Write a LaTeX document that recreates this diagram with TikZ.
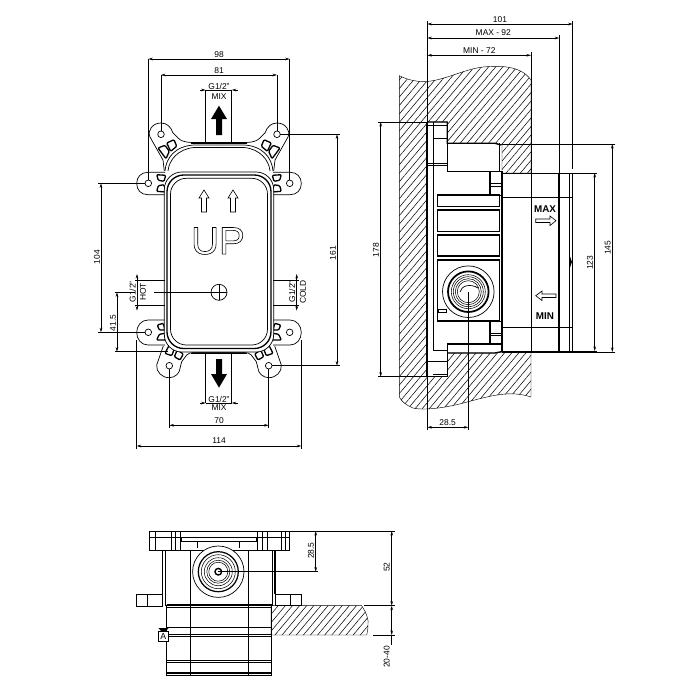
\documentclass[tikz,border=0pt]{standalone}
\usepackage{fontspec}
\setmainfont{Liberation Sans}
\usetikzlibrary{arrows.meta,patterns.meta}

\begin{document}
\begin{tikzpicture}[x=0.02cm, y=-0.02cm, >={Stealth[length=2.6pt,width=1.5pt]},
    dimline/.style={<->, line width=0.35pt},
    extline/.style={line width=0.3pt},
    holeline/.style={line width=0.3pt, shorten <=1.9pt},
    part/.style={line width=0.4pt},
    heavy/.style={line width=0.75pt},
    slot/.style={line width=0.75pt, fill=white, rounded corners=0.6pt},
    hatched/.style={line width=0.25pt, pattern={Lines[angle=50,distance=3.1pt,line width=0.3pt]}},
    dimlabel/.style={font=\fontsize{4.8}{6}\selectfont, inner sep=0pt},
    vertlabel/.style={dimlabel, rotate=90},
    blockarrow/.style={fill=black, draw=none},
    hollowarrow/.style={line width=0.35pt, fill=white}]
  \useasboundingbox (0,0) rectangle (700,700);

  % front view, both halves
  \foreach \s in {1,-1} {
    \begin{scope}[shift={(219,0)}, xscale=\s]
      % top lug
      \draw[part, fill=white] (54.7,171) -- (56,160) -- (69,137)
        .. controls (72,130) and (66,123) .. (58,123)
        .. controls (52,123) and (48,127) .. (46,133) -- (39,139.7)
        .. controls (36,141.5) and (32,142.5) .. (26,142.5) -- (0,142.5);
      \draw[part] (54,171) .. controls (53,158) and (44,146) .. (25,145) -- (0,145);
      \draw[part] (51,171) .. controls (50,160) and (41,149) .. (25,147.5) -- (0,147.5);
      \draw[heavy] (28,143.4) -- (0,143.4);
      \draw[slot] (61,148) -- (54,145.3) -- (49.7,151.3) -- (53,158.7) -- cycle;
      \draw[slot] (52.3,143) -- (45,139.7) -- (42.3,146.3) -- (48.3,151.3) -- cycle;
      % side lugs
      \draw[part, fill=white] (54,172.3) -- (71,172.3)
        .. controls (78,172.3) and (82.3,177) .. (82.3,183.5)
        .. controls (82.3,190) and (78,194.7) .. (71,194.7) -- (54,194.7);
      \draw[part, fill=white] (54,320) -- (71,320)
        .. controls (78,320) and (82.3,326) .. (82.3,332.5)
        .. controls (82.3,339) and (78,345) .. (71,345) -- (54,345);
      \draw[slot] (62.3,174.7) -- (53.3,175.3) -- (55,181.3) -- (60.7,180.3) -- cycle;
      \draw[slot] (60.7,185.7) -- (55,184.7) -- (53.3,192) -- (62.3,191.3) -- cycle;
      \draw[slot] (61.7,325) -- (55.7,323.3) -- (54,330) -- (59.7,330) -- cycle;
      \draw[slot] (59.7,334.3) -- (54,333.3) -- (53.3,340) -- (62.3,340) -- cycle;
      % bottom lug
      \draw[part, fill=white] (55.7,346) -- (62.3,365)
        .. controls (63,372) and (57,377.7) .. (49.7,377.7)
        .. controls (44,377.7) and (39,373) .. (39,368.3) -- (37.3,361.7) -- (32.3,355)
        .. controls (30,353) and (28,352.5) .. (26,352.5) -- (0,352.5);
      \draw[heavy] (28,353.5) -- (0,353.5);
      \draw[slot] (49.7,345) -- (44,347.3) -- (47.3,355.7) -- (54,353.3) -- cycle;
      \draw[slot] (41.7,350) -- (35.7,354) -- (39,360) -- (44.7,356.7) -- cycle;
      % holes
      \draw[part, fill=white] (58,134.3) circle (3.3);
      \draw[part, fill=white] (70.7,183.3) circle (3.3);
      \draw[part, fill=white] (70.7,332.3) circle (3.3);
      \draw[part, fill=white] (49.7,365.7) circle (3.3);
    \end{scope}
  }
  % box outline
  \draw[part, fill=white, rounded corners=10pt] (164.3,172) rectangle (273.7,352);
  \draw[heavy, rounded corners=9.5pt] (167,175) rectangle (271,348.5);
  \draw[part, rounded corners=9pt] (170.5,178.3) rectangle (267.5,345);

  % big arrows
  \draw[blockarrow] (219,105.7) -- (227,119) -- (222,119) -- (222,135) -- (216,135) -- (216,119) -- (211,119) -- cycle;
  \draw[blockarrow] (219,387.7) -- (227,374) -- (222,374) -- (222,359) -- (216,359) -- (216,374) -- (211,374) -- cycle;
  \foreach \x in {204,233}
  \draw[hollowarrow, shift={(\x,0)}] (0,190) -- (5,198) -- (2.5,198) -- (2.5,212) -- (-2.5,212) -- (-2.5,198) -- (-5,198) -- cycle;
  \node[inner sep=0pt, font=\fontsize{22}{24}\selectfont] (uptext) at (218,241)
    {\special{pdf:code 1 Tr 0.35 w}UP\special{pdf:code 0 Tr}};

  % inlet hole
  \coordinate (inlet) at (219,292.3);
  \draw[part] (inlet) circle (8);
  \draw[part] (211,292.3) -- (227,292.3) (219,284.3) -- (219,300.3);

  % side view, wall
  \draw[hatched] (399.3,75.7) .. controls (410,81) and (420,82) .. (427,81.5)
    .. controls (445,80) and (465,69) .. (483,67) .. controls (495,66) and (520,64) .. (531,80)
    -- (531,173) -- (502,173) -- (502,145) -- (495,143.3) -- (447.3,143.3) -- (447.3,122) -- (427,122)
    -- (427,376.7) -- (447.3,376.7) -- (447.3,353) -- (495,353) -- (502,352) -- (531,352) -- (531,397)
    .. controls (510,390) and (490,396) .. (467,402) .. controls (450,407) and (425,411) .. (413,408)
    .. controls (406,405) and (402,402) .. (399.3,397) -- cycle;

  % side view, body
  \draw[heavy] (427,122) -- (447.3,122) -- (447.3,143.3) -- (495,143.3) -- (501,145);
  \draw[heavy] (447.3,143.3) -- (447.3,171.7) -- (490,171.7);
  \draw[heavy] (427,122) -- (427,376.7) -- (447.3,376.7) -- (447.3,344) -- (502,344);
  \draw[heavy] (447.3,353) -- (495,353) -- (502,351.5);
  \draw[part] (433.3,122) -- (433.3,350) -- (447.3,350);
  \draw[part] (427,125) -- (447.3,125) (433.3,138) -- (447.3,138);
  \draw[part] (427,163) -- (447.3,163) (427,165) -- (447.3,165);
  \draw[part] (427,361) -- (447.3,361) (433.3,374) -- (447.3,374);
  \draw[part] (499.3,143.3) -- (499.3,171.7);
  \draw[heavy] (490,171.7) -- (502,171.7) -- (502,351.5);
  \draw[heavy] (490,171.7) -- (490,195) (490,321.5) -- (490,344);
  \draw[part] (490,183) -- (502,183) (490,186) -- (502,186) (490,195) -- (502,195);
  \draw[part] (490,321.5) -- (502,321.5) (490,333) -- (502,333) (490,335.5) -- (502,335.5);
  \foreach \a/\b in {195/206.7,210/231.7,235/256,260/321}
  \draw[heavy] (437.7,\a) rectangle (499.3,\b);

  % side view, inlet
  \coordinate (port) at (468.3,291.7);
  \draw[part] (port) circle (25.8);
  \draw[line width=1pt] (port) circle (20.3);
  \foreach \r in {17,15,13,11}
  \draw[line width=0.3pt] (port) circle (\r);
  \draw[part] (460,292) .. controls (461,286) and (470,283) .. (478,288);
  \draw[part] (438,309) rectangle (446.5,312);

  % side view, sleeve
  \draw[part] (502,173) -- (572.3,173);
  \draw[heavy] (502,351.5) -- (572.3,351.5);
  \draw[line width=0.55pt] (531,173) -- (531,351.5);
  \foreach \x in {559,569.3}
  \draw[line width=0.7pt] (\x,173) -- (\x,351.5);
  \draw[part] (572.3,173) -- (572.3,351.5);
  \draw[part] (502,197.7) -- (572.3,197.7) (502,327.3) -- (572.3,327.3);
  \fill (569.5,255) -- (572,262) -- (569.5,269) -- cycle;
  \draw[hollowarrow] (556,220.7) -- (550,216) -- (550,219) -- (535.7,219) -- (535.7,222.5) -- (550,222.5) -- (550,225.5) -- cycle;
  \draw[hollowarrow] (535.7,295.7) -- (542,291) -- (542,294) -- (556,294) -- (556,297.5) -- (542,297.5) -- (542,300.5) -- cycle;
  \node[inner sep=0pt, font=\fontsize{5.6}{7}\selectfont\bfseries] (maxtext) at (545,209) {MAX};
  \node[inner sep=0pt, font=\fontsize{5.6}{7}\selectfont\bfseries] (mintext) at (545,316) {MIN};

  % top view
  \draw[part] (149,531) rectangle (289,550);
  \draw[part] (149,537.3) -- (289,537.3);
  \foreach \x in {155,171.7,175,180,257.3,262.3,267.3,281.7,285.7}
  \draw[part] (\x,531) -- (\x,550);
  \draw[part] (181.7,537.3) -- (181.7,541.7) -- (256.7,541.7) -- (256.7,537.3);
  \draw[part] (197,541.7) -- (197,548) (239,541.7) -- (239,548);
  \draw[part] (136.7,594) rectangle (162.7,606);
  \draw[part] (147,594) -- (147,606);
  \draw[part] (275,594) rectangle (301,605);
  \draw[part] (290,594) -- (290,605);
  \draw[part, fill=white] (165.7,550) rectangle (272.3,605);
  \draw[heavy] (162.7,550) -- (162.7,594) (275,550) -- (275,594);
  \draw[part] (162.7,550) -- (190,550) (248.3,550) -- (275,550);
  \draw[part] (166.7,605) rectangle (271.7,675.7);
  \draw[heavy] (166.7,604.5) -- (271.7,604.5);
  \draw[part] (166.7,607.7) -- (271.7,607.7) (166.7,627.7) -- (271.7,627.7);
  \draw[part] (166.7,634.3) -- (271.7,634.3) (166.7,636) -- (271.7,636);
  \draw[part] (166.7,660.7) -- (271.7,660.7) (166.7,662.7) -- (271.7,662.7);
  \draw[heavy] (166.7,673) -- (271.7,673) (166.7,675.7) -- (271.7,675.7);
  \draw[part] (190,550) -- (190,675.7) (248.3,550) -- (248.3,675.7);
  \coordinate (boss) at (218.3,571.7);
  \draw[part, fill=white] (boss) circle (25.7);
  \draw[line width=0.7pt] (boss) circle (20);
  \foreach \r in {17,14,11.5,9.5}
  \draw[line width=0.3pt] (boss) circle (\r);
  \draw[line width=0.8pt] (boss) circle (3.3);
  \draw[hatched] (271,605.7) -- (361.7,605.7) .. controls (366,612) and (369,620) .. (368,625)
    .. controls (368,630) and (367,633) .. (366.7,635) -- (271,635) -- cycle;
  \fill (158.5,628) -- (168.5,628) -- (163.5,634) -- cycle;
  \node[draw, fill=white, line width=0.3pt, minimum width=5.5pt, minimum height=5.5pt, inner sep=0pt,
    font=\fontsize{5}{6}\selectfont] (markA) at (163.3,636.5) {A};

  % dimension end points
  \foreach \n/\x/\y in {ta/161/134.3,tb/277/134.3,la/148.3/183.3,lb/289.7/183.3,ka/148.3/332.3,
    kb/289.7/332.3,ua/169.3/365.7,ub/268.7/365.7,
    a98/148.3/59,b98/289.7/59,a81/161/75,b81/277/75,
    aG/200/90,bG/237.7/90,cG/205.7/90,dG/231.7/90,eG/205.7/142,fG/231.7/142,
    aH/200/403,bH/237.7/403,cH/205.7/403,dH/231.7/403,eH/205.7/353,fH/231.7/353,
    a70/169.3/425.3,b70/268.7/425.3,a114/136.7/446,b114/301.3/446,c114/136.7/340,d114/301.3/340,
    e114/136.7/449,f114/301.3/449,g70/169.3/428,h70/268.7/428,
    a161/337/134.3,b161/337/365.7,c161/340/134.3,d161/340/365.7,
    a104/101/183.3,b104/101/332.3,c104/98/183.3,d104/98/332.3,
    a41/117/292.3,b41/117/351.7,c41/114.5/292.3,d41/114.5/351.7,e41/135/292.3,f41/154/292.3,g41/168/351.7,
    aHot/137/274,bHot/137/310.7,cHot/135/280,dHot/135/305,eHot/165/280,fHot/165/305,
    aCold/296.7/274,bCold/296.7/310.7,cCold/298.5/280,dCold/298.5/305,eCold/273/280,fCold/273/305,
    a101/427.3/24,b101/572.7/24,c101/427.3/21,d101/572.7/21,e101/427.3/122,f101/572.7/169,
    a92/427.3/38,b92/559.3/38,c92/559.3/35,d92/559.3/173,
    a72/427.3/55.3,b72/531/55.3,c72/531/52,d72/531/173,
    a178/380.7/122,b178/380.7/376.7,c178/378/122,d178/378/376.7,e178/427/122,f178/427/376.7,
    a145/612.3/144,b145/612.3/352,c145/615/144,d145/615/352,e145/502/144,f145/502/352,
    a123/594.7/173,b123/594.7/351,c123/597/173,d123/597/351,e123/572/173,f123/572/351,
    a28/427.3/427.3,b28/468.3/427.3,c28/427.3/430,d28/468.3/430,e28/427.3/377,
    p28/315.7/531,q28/315.7/571.7,r28/318/571.7,
    a52/391.7/531,b52/391.7/605.7,c52/394.5/531,d52/394.5/605.7,e52/289/531,f52/364/605.7,
    a20/391.7/605.7,b20/391.7/635,c20/394.5/635,d20/373/635,e20/391.7/645}
  \coordinate (\n) at (\x,\y);

  % dimensions
  \foreach \a/\b in {a98/b98,a81/b81,a70/b70,a114/b114,a161/b161,a104/b104,a41/b41,aHot/bHot,aCold/bCold,
    a101/b101,a92/b92,a72/b72,a178/b178,a145/b145,a123/b123,a28/b28,p28/q28,a52/b52,a20/b20}
  \draw[dimline] (\a) -- (\b);
  \foreach \a/\b in {aG/cG,bG/dG,aH/cH,bH/dH}
  \draw[->, line width=0.35pt] (\a) -- (\b);
  \draw[extline] (cG) -- (dG);
  \draw[extline] (cH) -- (dH);
  \draw[extline] (b20) -- (e20);

  % extension lines
  \foreach \a/\b in {c114/e114,d114/f114,cG/eG,dG/fG,cH/eH,dH/fH,cHot/eHot,dHot/fHot,cCold/eCold,dCold/fCold,
    c41/e41,d41/g41,f41/inlet,c101/e101,d101/f101,c92/d92,c72/d72,c178/e178,d178/f178,c145/e145,d145/f145,
    c123/e123,d123/f123,c28/e28,e52/c52,f52/d52,c20/d20,r28/boss}
  \draw[extline] (\a) -- (\b);
  \foreach \a/\b in {la/a98,lb/b98,ta/a81,tb/b81,ua/g70,ub/h70,tb/c161,ub/d161,la/c104,ka/d104}
  \draw[holeline] (\a) -- (\b);
  \draw[extline] (d28) -- (port);

  % labels
  \foreach \n/\x/\y/\t in {l98/219/55/98,l81/219/71/81,lGa/219/86.5/{G1/2"},lMa/219/97/MIX,lGb/219/399/{G1/2"},
    lMb/219/408/MIX,l70/219/421/70,l114/219/441/114,l101/500/20/101,l92/493.3/33/{MAX - 92},
    l72/479.3/50.7/{MIN - 72},l285/447.7/422.7/28.5}
  \node[dimlabel] (\n) at (\x,\y) {\t};
  \foreach \n/\x/\y/\t in {l161/333/253/161,l104/97/257/104,l415/113/323/41.5,lGh/132.7/292/{G1/2"},lHot/143/292/HOT,
    lGc/292/292/{G1/2"},lCold/303/292/COLD,l178/376/250/178,l145/607.7/247.7/145,l123/590/262.7/123,
    l28b/311/550.7/28.5,l52/386.7/567/52,l20/386.7/657/20-40}
  \node[vertlabel] (\n) at (\x,\y) {\t};
\end{tikzpicture}
\end{document}
